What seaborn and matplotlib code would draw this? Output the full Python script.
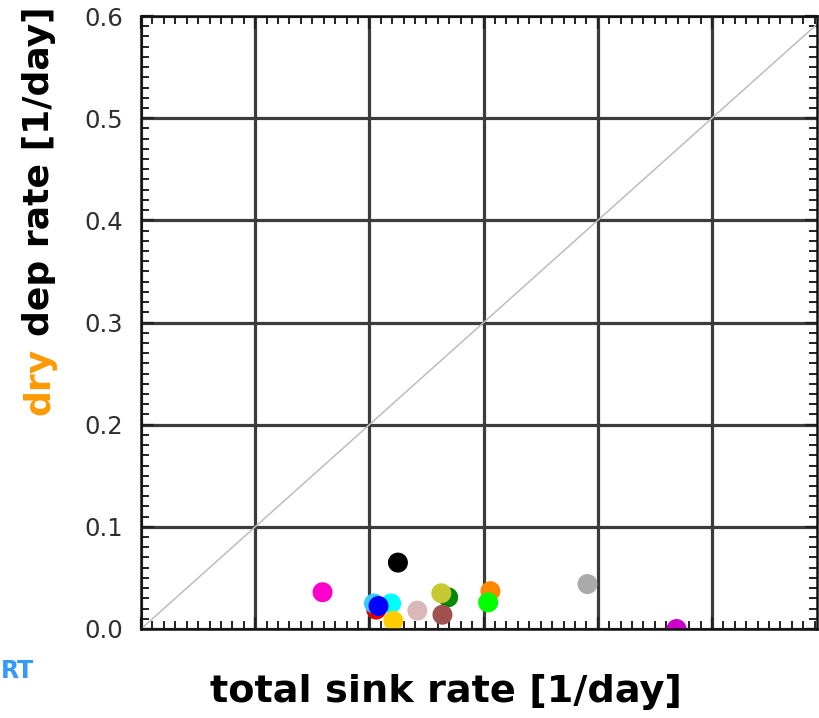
import numpy as np
import pandas as pd
import matplotlib
matplotlib.use("Agg")
import matplotlib.pyplot as plt
from matplotlib.ticker import MultipleLocator, FormatStrFormatter
import seaborn as sns

# ---- data: per-model total sink rate vs dry deposition rate [1/day] ----
models = ["m01", "m02", "m03", "m04", "m05", "m06", "m07", "m08",
          "m09", "m10", "m11", "m12", "m13", "m14", "m15"]
total_sink = [0.159, 0.225, 0.206, 0.204, 0.219, 0.208, 0.221, 0.242,
              0.269, 0.263, 0.264, 0.306, 0.304, 0.391, 0.469]
dry_dep = [0.036, 0.065, 0.019, 0.025, 0.025, 0.0225, 0.008, 0.018,
           0.031, 0.035, 0.014, 0.037, 0.026, 0.044, 0.0]
model_colors = ["#ff00cc", "#000000", "#e00000", "#33ccff", "#00ffff",
                "#0000ff", "#ffcc00", "#d9b8b8", "#008800", "#c8c832",
                "#a0504f", "#ff8800", "#00ff00", "#aaaaaa", "#cc00cc"]

y_ticks = [0.0, 0.1, 0.2, 0.3, 0.4, 0.5, 0.6]

df = pd.DataFrame({"model": models, "total": total_sink, "dry": dry_dep})

sns.set_theme(style="white")
plt.rcParams["font.family"] = ["DejaVu Sans"]

fig = plt.figure(figsize=(8.19, 7.18), dpi=100)
ax = fig.add_axes([141 / 819, 89 / 718, 676 / 819, 613 / 718])

ax.set_xlim(0, 0.592)
ax.set_ylim(0, 0.6)

# 1:1 reference line
ax.axline((0, 0), slope=1, color="#bdbdbd", lw=1.1, zorder=1)

# grid
ax.xaxis.set_major_locator(MultipleLocator(0.1))
ax.yaxis.set_major_locator(MultipleLocator(0.1))
ax.xaxis.set_minor_locator(MultipleLocator(0.01))
ax.yaxis.set_minor_locator(MultipleLocator(0.01))
ax.grid(True, which="major", color="#3c3c3c", lw=2.3, zorder=0)
ax.set_axisbelow(True)

sns.scatterplot(data=df, x="total", y="dry", hue="model",
                palette=dict(zip(models, model_colors)), s=207,
                linewidth=0, legend=False, ax=ax, zorder=3, clip_on=True)

for sp in ax.spines.values():
    sp.set_color("#111111")
    sp.set_linewidth(1.8)
    sp.set_zorder(4)

ax.tick_params(axis="both", which="both", direction="in",
               top=True, right=True, bottom=True, left=True, color="#222222")
ax.tick_params(which="minor", length=6, width=1.4)
ax.tick_params(which="major", length=9, width=1.6)
ax.tick_params(axis="x", which="both", labelbottom=False)
ax.set_yticks(y_ticks)
ax.yaxis.set_major_formatter(FormatStrFormatter("%.1f"))
ax.tick_params(axis="y", which="major", labelsize=17.5, labelcolor="#2e2e2e", pad=13)
ax.set_xlabel("")
ax.set_ylabel("")

# x axis title
fig.text(446 / 819, 1 - 692 / 718, "total sink rate [1/day]",
         ha="center", va="center", fontsize=27.5, fontweight="bold", color="black")

# y axis title in two colours
x_base = 49 / 819
y_start = 1 - 415 / 718
t1 = fig.text(x_base, y_start, "dry", rotation=90, rotation_mode="anchor",
              ha="left", va="baseline", fontsize=26, fontweight="bold",
              color="#ff9900")
fig.canvas.draw()
bb = t1.get_window_extent(renderer=fig.canvas.get_renderer())
gap_px = 12
y2 = (bb.y1 + gap_px) / fig.bbox.height
fig.text(x_base, y2, "dep rate [1/day]", rotation=90, rotation_mode="anchor",
         ha="left", va="baseline", fontsize=26, fontweight="bold", color="black")

# logo text
fig.text(1 / 819, 1 - 671 / 718, "RT", ha="left", va="center",
         fontsize=17, fontweight="semibold", color="#3399ff")

fig.savefig("out.png", dpi=100)
